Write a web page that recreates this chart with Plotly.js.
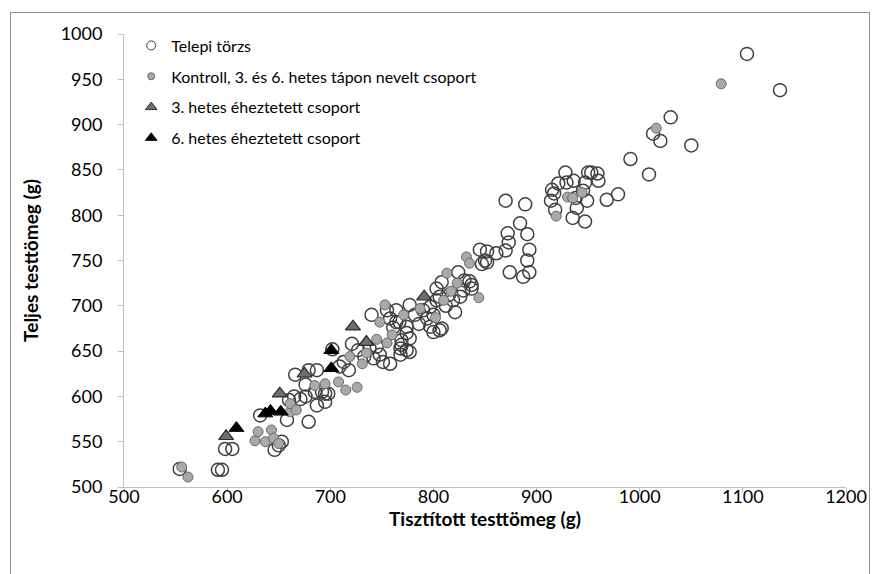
<!DOCTYPE html>
<html>
<head>
<meta charset="utf-8">
<script src="https://cdn.plot.ly/plotly-3.0.1.min.js"></script>
<style>
  html, body { margin: 0; padding: 0; background: #ffffff; }
  #frame { position: absolute; left: 10px; top: 12px; width: 860px; height: 600px; border: 1px solid #8c8c8c; box-sizing: border-box; }
  #chart { position: absolute; left: 0; top: 0; width: 872px; height: 574px; }
</style>
</head>
<body>
<div id="frame"></div>
<div id="chart"></div>
<script>
// Telepi törzs (open circles)
const telepiX = [554,591,595,598,605,646,650,653,632,658,679,660,665,671,676,687,695,695,685,692,698,676,666,679,687,702,
  721,727,713,718,709,733,738,742,745,748,751,758,768,774,777,768,769,769,777,774,774,767,764,758,740,755,764,777,782,
  761,786,790,794,797,800,806,808,797,800,803,806,803,808,812,815,821,819,826,829,830,835,837,837,824,
  845,852,850,852,847,861,870,873,872,884,891,893,891,893,887,874,870,889,
  914,917,915,918,921,929,936,947,960,928,950,953,959,945,938,949,939,935,947,968,979,
  991,1009,1013,1020,1030,1050,1104,1136];
const telepiY = [520,519,519,542,542,541,546,550,579,574,572,596,600,597,600,590,594,603,605,605,603,613,624,629,629,652,
  658,651,638,629,633,644,653,642,655,646,638,636,646,651,649,653,657,662,664,670,677,682,682,686,690,695,695,701,690,
  676,680,695,686,677,671,673,675,699,690,706,710,719,726,700,712,693,706,710,717,728,727,723,719,737,
  762,760,750,748,746,758,761,770,780,791,779,762,750,737,732,737,816,812,
  816,824,828,806,835,836,838,836,838,847,847,847,846,827,819,816,808,797,793,817,823,
  862,845,890,882,908,877,978,938];

// Kontroll, 3. és 6. hetes tápon nevelt csoport (grey filled circles)
const kontrollX = [556,562,627,630,637,643,645,650,661,661,667,685,695,708,715,726,719,731,735,745,755,760,748,753,771,787,
  802,810,817,813,823,832,835,844,919,930,935,944,1016,1079];
const kontrollY = [522,511,551,561,550,563,554,548,583,592,585,612,614,616,607,610,644,636,648,663,659,668,682,701,690,697,
  687,706,716,736,725,754,747,709,799,820,819,825,896,945];

// 3. hetes éheztetett csoport (striped triangles)
const het3X = [599,651,675,722,735,791];
const het3Y = [556,603,625,677,660,710];

// 6. hetes éheztetett csoport (black triangles)
const het6X = [609,637,642,652,701,701];
const het6Y = [565,581,584,583,651,631];

const names = ['Telepi törzs','Kontroll, 3. és 6. hetes tápon nevelt csoport','3. hetes éheztetett csoport','6. hetes éheztetett csoport'];

const FONT = 'Lato, "Open Sans", sans-serif';

const traces = [
  {x: telepiX, y: telepiY, type: 'scatter', mode: 'markers', name: names[0], showlegend: false,
   marker: {symbol: 'circle', size: 13, color: 'rgba(255,255,255,0)', line: {color: '#404040', width: 1.5}}},
  {x: kontrollX, y: kontrollY, type: 'scatter', mode: 'markers', name: names[1], showlegend: false,
   marker: {symbol: 'circle', size: 10, color: '#a9a9a9', line: {color: '#6a6a6a', width: 1}}},
  {x: het3X, y: het3Y, type: 'scatter', mode: 'markers', name: names[2], showlegend: false,
   marker: {symbol: 'triangle-up', size: 13, color: '#6e6e6e', line: {color: '#2a2a2a', width: 1.2}}},
  {x: het6X, y: het6Y, type: 'scatter', mode: 'markers', name: names[3], showlegend: false,
   marker: {symbol: 'triangle-up', size: 13, color: '#000000', line: {color: '#000000', width: 1}}},
  // legend entries (small symbols like the reference legend)
  {x: [null], y: [null], type: 'scatter', mode: 'markers', name: names[0], legendgroup: 'a',
   marker: {symbol: 'circle', size: 9, color: 'rgba(255,255,255,0)', line: {color: '#3c3c3c', width: 1}}},
  {x: [null], y: [null], type: 'scatter', mode: 'markers', name: names[1], legendgroup: 'b',
   marker: {symbol: 'circle', size: 7, color: '#a9a9a9', line: {color: '#6a6a6a', width: 1}}},
  {x: [null], y: [null], type: 'scatter', mode: 'markers', name: names[2], legendgroup: 'c',
   marker: {symbol: 'triangle-up', size: 10, color: '#6e6e6e', line: {color: '#2a2a2a', width: 1}}},
  {x: [null], y: [null], type: 'scatter', mode: 'markers', name: names[3], legendgroup: 'd',
   marker: {symbol: 'triangle-up', size: 10, color: '#000000', line: {color: '#000000', width: 1}}}
];

const layout = {
  width: 872, height: 574,
  margin: {l: 124, r: 26, t: 34, b: 87},
  paper_bgcolor: 'rgba(0,0,0,0)',
  plot_bgcolor: 'rgba(0,0,0,0)',
  font: {family: FONT, color: '#000'},
  xaxis: {
    range: [500, 1200], dtick: 100, tick0: 500,
    showgrid: false, zeroline: false,
    showline: true, linecolor: '#bfbfbf', linewidth: 1,
    ticks: 'outside', ticklen: 5, tickcolor: '#bfbfbf',
    ticklabelstandoff: -12,
    tickfont: {family: FONT, size: 18, color: '#000'},
    title: {text: '<b>Tisztított testtömeg (g)</b>', font: {family: FONT, size: 19, color: '#000'}, standoff: 6}
  },
  yaxis: {
    range: [500, 1000], dtick: 50, tick0: 500,
    showgrid: false, zeroline: false,
    showline: true, linecolor: '#bfbfbf', linewidth: 1,
    ticks: 'outside', ticklen: 5, tickcolor: '#bfbfbf',
    ticklabelstandoff: 12,
    tickfont: {family: FONT, size: 18, color: '#000'},
    title: {text: '<b>Teljes testtömeg (g)</b>', font: {family: FONT, size: 19, color: '#000'}, standoff: 16}
  },
  showlegend: true,
  legend: {
    x: 0.01, y: 1.012, xanchor: 'left', yanchor: 'top',
    bgcolor: 'rgba(0,0,0,0)', borderwidth: 0,
    font: {family: FONT, size: 16, color: '#000'},
    traceorder: 'grouped', tracegroupgap: 7, itemwidth: 30
  }
};

Plotly.newPlot('chart', traces, layout, {displayModeBar: false, staticPlot: true});
</script>
</body>
</html>
